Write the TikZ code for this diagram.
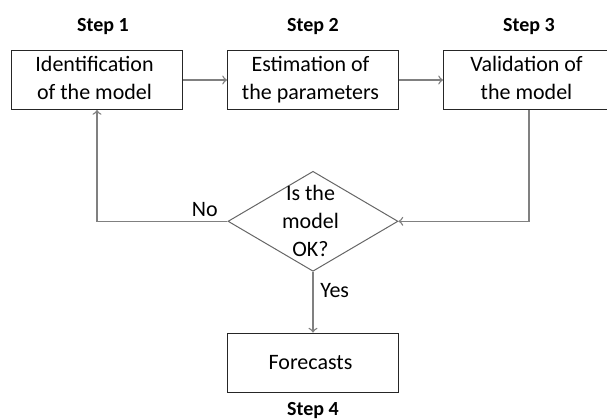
\documentclass[tikz,border=0pt]{standalone}
\usepackage{fontspec}
\setmainfont{Carlito}
\usetikzlibrary{matrix,shapes.geometric,positioning}

\newcommand{\lines}[1]{\raisebox{-1pt}{\begin{tabular}{@{}c@{}}#1\end{tabular}}}

\tikzset{
  stepbox/.style={draw=black!85, line width=0.5pt, minimum width=85.5pt,
    minimum height=29.5pt, inner sep=0pt, align=center},
  decision/.style={diamond, draw=black!60, line width=0.5pt, minimum width=85pt,
    minimum height=50pt, inner sep=0pt},
  steptext/.style={font=\bfseries, inner sep=0pt},
  link/.style={draw=gray, line width=0.7pt},
}

\begin{document}
\begin{tikzpicture}[font=\fontsize{11}{14}\selectfont]
  \matrix (m) [matrix of nodes,row sep=30.5pt,column sep=22pt,
    nodes={stepbox,anchor=center}]
  {
     \lines{Identification\\ of the model} & \lines{Estimation of\\ the parameters} & \lines{Validation of\\ the model} \\
     & |[decision]| \makebox[0pt]{\smash{\raisebox{-3.3pt}{\begin{tabular}{@{}c@{}}Is the\\ model\\ OK?\end{tabular}}}} & \\
     & Forecasts & \\};
  % step titles
  \node[steptext, above=7.5pt of m-1-1, xshift=3pt] (s1) {Step 1};
  \node[steptext, above=7.5pt of m-1-2] (s2) {Step 2};
  \node[steptext, above=7.5pt of m-1-3] (s3) {Step 3};
  \node[steptext, below=4.5pt of m-3-2] (s4) {Step 4};
  \path[link,->]
    (m-1-1) edge (m-1-2)
    (m-1-2) edge (m-1-3)
    (m-2-2) edge node [right, pos=0.3] (yes) {Yes} (m-3-2);
  \draw[link,->] (m-1-3) |- (m-2-2);
  \draw[link,->] (m-2-2) -| node [above left, pos=0, inner xsep=4.5pt, inner ysep=2pt] (no) {No} (m-1-1);
  \pgfresetboundingbox
  \useasboundingbox ([shift={(-5.5pt,25pt)}]m-1-1.north west) rectangle ++(303.5pt,-209.5pt);
\end{tikzpicture}
\end{document}
